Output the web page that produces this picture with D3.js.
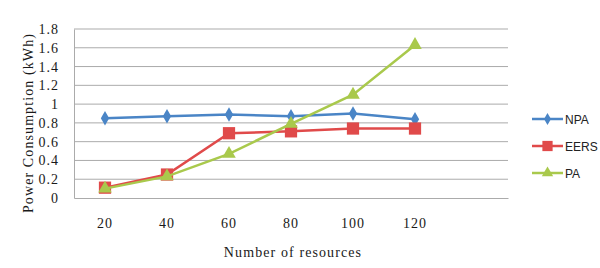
<!DOCTYPE html>
<html><head><meta charset="utf-8">
<script src="https://cdn.jsdelivr.net/npm/d3@7"></script>
<style>body{margin:0;background:#fff}svg{display:block}</style>
</head><body>
<svg id="c" width="600" height="268"></svg>
<script>
const categories = ["20","40","60","80","100","120"];
const npa  = [0.85, 0.87, 0.89, 0.87, 0.90, 0.84];
const eers = [0.11, 0.25, 0.69, 0.71, 0.74, 0.74];
const pa   = [0.10, 0.23, 0.47, 0.79, 1.10, 1.63];
const yTicks = [0,0.2,0.4,0.6,0.8,1,1.2,1.4,1.6,1.8];
const seriesNames = ["NPA","EERS","PA"];

const svg = d3.select("#c");
const L = 74, R = 508, T = 29, B = 198;
const serif = "Liberation Serif";
// 7 slots in the category axis (last one empty)
const slotDomain = categories.concat([" "]);
const x = d3.scaleBand().domain(slotDomain).range([L, R]);
const xc = c => x(c) + x.bandwidth()/2;
const y = d3.scaleLinear().domain([0, 1.8]).range([B, T]);

// gridlines
svg.append("g").selectAll("line").data(yTicks.filter(t=>t>0)).join("line")
  .attr("x1", L).attr("x2", R).attr("y1", d=>y(d)).attr("y2", d=>y(d))
  .attr("stroke", "#ababab").attr("stroke-width", 1);

// y axis
const yAxis = d3.axisLeft(y).tickValues(yTicks).tickFormat(d=>d3.format("~g")(d)).tickSize(0).tickPadding(15);
const gy = svg.append("g").attr("transform", `translate(${L},0)`).call(yAxis);
gy.select(".domain").attr("stroke", "#ababab");
gy.selectAll("text").attr("font-family", serif).attr("font-size", 14)
  .attr("letter-spacing", "1px").attr("fill", "#1a1a1a");

// x axis
const xAxis = d3.axisBottom(x).tickValues(categories).tickSize(0).tickPadding(20);
const gx = svg.append("g").attr("transform", `translate(0,${B})`).call(xAxis);
gx.select(".domain").attr("stroke", "#ababab");
gx.selectAll("text").attr("font-family", serif).attr("font-size", 14)
  .attr("letter-spacing", "1px").attr("fill", "#1a1a1a");

// titles
svg.append("text").attr("x", 293).attr("y", 257).attr("text-anchor", "middle")
  .attr("font-family", serif).attr("font-size", 14).attr("letter-spacing", "1.1px").attr("fill", "#1a1a1a")
  .text("Number of resources");
svg.append("text").attr("transform", "translate(33,123) rotate(-90)").attr("text-anchor", "middle")
  .attr("font-family", serif).attr("font-size", 14).attr("letter-spacing", "1.1px").attr("fill", "#1a1a1a")
  .text("Power Consumption (kWh)");

const series = [
  {name: seriesNames[0], values: npa,  color: "#4a85c6", marker: "diamond"},
  {name: seriesNames[1], values: eers, color: "#e04a4a", marker: "square"},
  {name: seriesNames[2], values: pa,   color: "#a9c94c", marker: "triangle"}
];
const sym = {diamond: d3.symbolDiamond, square: d3.symbolSquare, triangle: d3.symbolTriangle};
const size = {diamond: 60, square: 150, triangle: 80};

const line = d3.line().x((d,i)=>xc(categories[i])).y(d=>y(d));
series.forEach(s => {
  const g = svg.append("g");
  g.append("path").attr("d", line(s.values)).attr("fill","none")
    .attr("stroke", s.color).attr("stroke-width", 2.5);
  g.selectAll("path.m").data(s.values).join("path").attr("class","m")
    .attr("transform", (d,i)=>`translate(${xc(categories[i])},${y(d)})`)
    .attr("d", d3.symbol().type(sym[s.marker]).size(size[s.marker]))
    .attr("fill", s.color);
});

// legend
const lg = svg.append("g");
series.forEach((s,i) => {
  const ly = 119 + i*27;
  lg.append("line").attr("x1", 532).attr("x2", 563).attr("y1", ly).attr("y2", ly)
    .attr("stroke", s.color).attr("stroke-width", 2.5);
  lg.append("path").attr("transform", `translate(547.5,${ly})`)
    .attr("d", d3.symbol().type(sym[s.marker]).size(size[s.marker]*0.7)).attr("fill", s.color);
  lg.append("text").attr("x", 565).attr("y", ly+4.5).attr("font-family","Liberation Sans")
    .attr("font-size", 12).attr("fill","#222").text(s.name);
});
</script>
</body></html>
